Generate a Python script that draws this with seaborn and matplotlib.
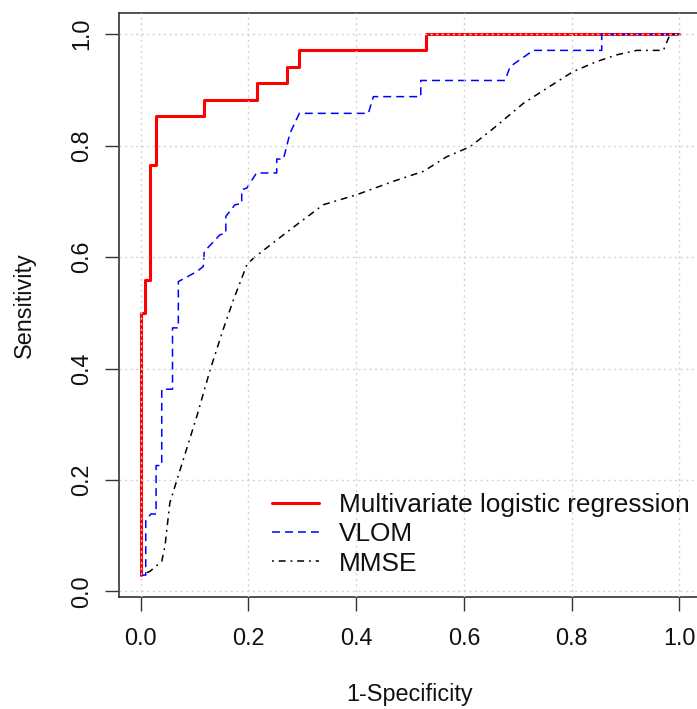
import numpy as np
import pandas as pd
import matplotlib
matplotlib.use("Agg")
import matplotlib.pyplot as plt
import seaborn as sns

# ---- data (ROC curve vertices) ----
series_names = ["Multivariate logistic regression", "VLOM", "MMSE"]

mlr_fpr = [0.0, 0.0, 0.008, 0.008, 0.017, 0.017, 0.028, 0.028, 0.1175, 0.1175,
           0.215, 0.215, 0.271, 0.271, 0.294, 0.294, 0.530, 0.530, 1.0]
mlr_tpr = [0.0294, 0.500, 0.500, 0.559, 0.559, 0.765, 0.765, 0.853, 0.853, 0.882,
           0.882, 0.912, 0.912, 0.941, 0.941, 0.971, 0.971, 1.0, 1.0]

vlom_fpr = [0.0, 0.0093, 0.0093, 0.0186, 0.0285, 0.0285, 0.039, 0.039, 0.059, 0.059,
            0.0698, 0.0698, 0.104, 0.116, 0.118, 0.147, 0.158, 0.158, 0.175, 0.1875,
            0.1875, 0.197, 0.209, 0.215, 0.2525, 0.2525, 0.265, 0.277, 0.2945, 0.4227,
            0.432, 0.52, 0.52, 0.6765, 0.686, 0.729, 0.856, 0.856, 1.0]
vlom_tpr = [0.0294, 0.0294, 0.126, 0.139, 0.139, 0.226, 0.226, 0.363, 0.363, 0.473,
            0.473, 0.556, 0.574, 0.583, 0.610, 0.640, 0.643, 0.673, 0.694, 0.696,
            0.721, 0.724, 0.742, 0.751, 0.751, 0.776, 0.776, 0.822, 0.858, 0.858,
            0.888, 0.888, 0.917, 0.917, 0.942, 0.971, 0.971, 1.0, 1.0]

mmse_fpr = [0.0, 0.017, 0.039, 0.045, 0.054, 0.073, 0.104, 0.129, 0.153, 0.172,
            0.197, 0.209, 0.277, 0.339, 0.401, 0.469, 0.525, 0.568, 0.6115, 0.655,
            0.7105, 0.754, 0.803, 0.847, 0.884, 0.921, 0.9705, 0.983, 1.0]
mmse_tpr = [0.0294, 0.036, 0.054, 0.081, 0.159, 0.218, 0.314, 0.398, 0.470, 0.523,
            0.586, 0.598, 0.649, 0.694, 0.712, 0.736, 0.754, 0.780, 0.798, 0.831,
            0.876, 0.903, 0.933, 0.951, 0.963, 0.971, 0.971, 1.0, 1.0]

tick_values = [0.0, 0.2, 0.4, 0.6, 0.8, 1.0]
tick_labels = ["0.0", "0.2", "0.4", "0.6", "0.8", "1.0"]

# ---- style ----
sns.set_theme(style="white")
plt.rcParams["font.family"] = ["Liberation Sans", "DejaVu Sans"]

W, H = 697, 709
fig = plt.figure(figsize=(W / 100, H / 100), dpi=100)
ax_left, ax_right, ax_top, ax_bottom = 119.2, 700.8, 12.6, 596.7
ax = fig.add_axes([ax_left / W, 1 - ax_bottom / H,
                   (ax_right - ax_left) / W, (ax_bottom - ax_top) / H])

styles = [
    dict(color="#FF0000", lw=2.2, ls="-"),
    dict(color="#0000FF", lw=1.1, ls=(0, (5.2, 3.3))),
    dict(color="#000000", lw=1.1, ls=(0, (1.2, 3.2, 4.5, 3.2))),
]
data = [(mlr_fpr, mlr_tpr), (vlom_fpr, vlom_tpr), (mmse_fpr, mmse_tpr)]

handles = []
for name, (fx, ty), st in zip(series_names, data, styles):
    df = pd.DataFrame({"fpr": fx, "tpr": ty})
    sns.lineplot(data=df, x="fpr", y="tpr", sort=False, estimator=None,
                 color=st["color"], linewidth=st["lw"], linestyle=st["ls"],
                 ax=ax, legend=False)
    handles.append(matplotlib.lines.Line2D([], [], color=st["color"],
                                           lw=st["lw"], ls=st["ls"]))

ax.set_xlim(-0.04, 1.04)
ax.set_ylim(-0.0094, 1.0388)

# grid on top (as R grid())
ax.set_axisbelow(False)
ax.grid(True, color="#D3D3D3", linestyle=(0, (1.5, 2.5)), linewidth=1.0)
ax.set_xticks(tick_values)
ax.set_xticklabels(tick_labels)
ax.set_yticks(tick_values)
ax.set_yticklabels(tick_labels)

for s in ["left", "top", "bottom", "right"]:
    ax.spines[s].set_color("#333333")
    ax.spines[s].set_linewidth(1.2)

ax.tick_params(axis="both", which="major", direction="out", length=10,
               width=1.0, color="#333333", labelsize=16.8, labelcolor="#111111",
               bottom=True, left=True)
ax.tick_params(axis="x", pad=12)
ax.tick_params(axis="y", pad=9, labelrotation=90)
for lab in ax.get_yticklabels():
    lab.set_va("center")

ax.set_xlabel("1-Specificity", fontsize=16.8, color="#111111", va="center")
ax.xaxis.set_label_coords(0.5, (ax_bottom - 694) / (ax_bottom - ax_top))
ax.set_ylabel("Sensitivity", fontsize=16.8, color="#111111", va="center")
ax.yaxis.set_label_coords((24 - ax_left) / (ax_right - ax_left), 0.5)

leg = ax.legend(handles, series_names, loc="lower left",
                bbox_to_anchor=((272 - ax_left) / (ax_right - ax_left), 0.036),
                frameon=False, fontsize=18.9, handlelength=1.8,
                handletextpad=0.75, labelspacing=0.2, borderpad=0,
                borderaxespad=0)
for t in leg.get_texts():
    t.set_color("#111111")

fig.savefig("out.png", dpi=100)
